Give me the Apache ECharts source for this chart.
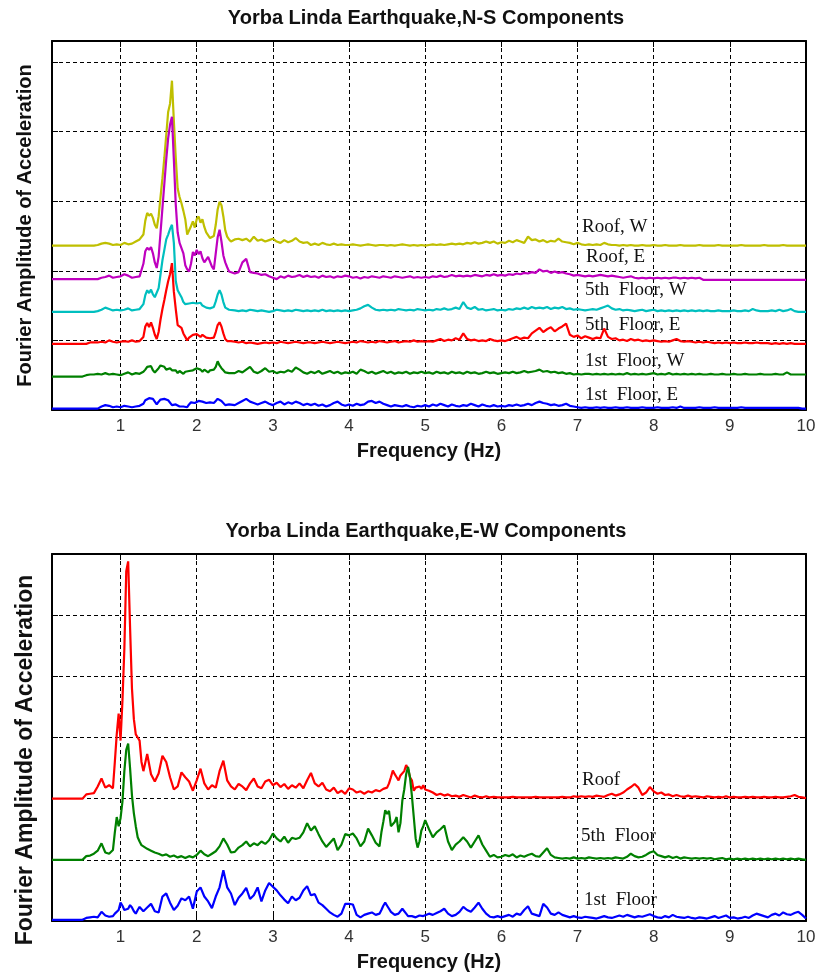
<!DOCTYPE html>
<html>
<head>
<meta charset="utf-8">
<script src="https://cdn.jsdelivr.net/npm/echarts@6/dist/echarts.min.js"></script>
<style>
  html, body { margin: 0; padding: 0; background: #fff; }
  #chart { width: 819px; height: 976px; }
</style>
</head>
<body>
<div id="chart"></div>
<script>
// Fourier amplitude spectra, Yorba Linda earthquake, stacked per recording station.

const titleNS = 'Yorba Linda Earthquake,N-S Components';
const titleEW = 'Yorba Linda Earthquake,E-W Components';
const xName = 'Frequency (Hz)';
const yName = 'Fourier Amplitude of Acceleration';
const xTicks = [1, 2, 3, 4, 5, 6, 7, 8, 9, 10];

const namesNS = ['Roof, W', 'Roof, E', '5th  Floor, W', '5th  Floor, E', '1st  Floor, W', '1st  Floor, E'];
const namesEW = ['Roof', '5th  Floor', '1st  Floor'];

// frequency bins (Hz): finer spacing around the resonance peaks
function bins(start, stop, step) {
  const n = Math.round((stop - start) / step) + 1;
  const out = [];
  for (let i = 0; i < n; i++) out.push(Math.round((start + i * step) * 1000) / 1000);
  return out;
}
const freqNS = [0.1].concat(bins(0.5, 1.3, 0.05), bins(1.325, 2.45, 0.025), bins(2.5, 10, 0.05));
const freqEW = [0.1].concat(bins(0.5, 0.9, 0.05), bins(0.925, 1.3, 0.025), bins(1.35, 4.4, 0.05),
                            bins(4.425, 5.0, 0.025), bins(5.05, 10, 0.05));

// ---- N-S components (offset traces) ----
const roofW_NS = [
  2.36,
  2.36,2.36,2.36,2.36,2.37,2.39,2.40,2.39,2.37,2.38,2.37,2.40,2.38,2.39,2.42,2.45,2.52,
  2.72,2.83,2.79,2.82,2.76,2.66,2.61,2.78, 3.06,3.33,3.62,3.95,4.28,4.40,4.73,4.15,
  3.62,3.18,3.06,2.97,2.86,2.74,2.52,2.50, 2.64,2.71,2.62,2.74,2.78,2.69,2.74,2.63,
  2.55,2.53,2.47,2.45,2.50,2.66,2.88,2.99, 2.94,2.78,2.58,2.49,2.45,2.42,
  2.45,2.46,2.44,2.46,2.42,2.49,2.43,2.45,2.42,2.44,
  2.46,2.42,2.40,2.44,2.41,2.43,2.47,2.42,2.40,2.41,
  2.37,2.39,2.37,2.40,2.38,2.37,2.39,2.37,2.38,2.37,
  2.37,2.38,2.37,2.36,2.37,2.38,2.37,2.36,2.37,2.37,
  2.36,2.37,2.36,2.37,2.38,2.37,2.36,2.37,2.36,2.37,
  2.36,2.37,2.38,2.37,2.38,2.37,2.38,2.39,2.38,2.39,
  2.38,2.40,2.39,2.41,2.39,2.40,2.42,2.40,2.42,2.39,
  2.41,2.40,2.43,2.41,2.44,2.42,2.40,2.49,2.44,2.45,
  2.42,2.44,2.41,2.43,2.42,2.46,2.42,2.41,2.40,2.38,
  2.40,2.38,2.37,2.38,2.37,2.38,2.37,2.40,2.38,2.37,
  2.37,2.36,2.37,2.36,2.37,2.36,2.36,2.37,2.36,2.36,
  2.37,2.36,2.36,2.37,2.36,2.36,2.36,2.37,2.36,2.36,
  2.36,2.36,2.37,2.36,2.36,2.36,2.36,2.37,2.36,2.36,
  2.36,2.36,2.36,2.37,2.36,2.36,2.36,2.36,2.36,2.37,
  2.36,2.36,2.36,2.36,2.37,2.36,2.36,2.36,2.36,2.36,
  2.36
];
const roofE_NS = [
  1.88,
  1.88,1.88,1.88,1.88,1.88,1.90,1.91,1.93,1.90,1.91,1.92,1.95,1.93,1.90,1.91,1.92,2.10,
  2.28,2.33,2.30,2.34,2.25,2.12,2.04,2.20, 2.55,2.90,3.25,3.60,3.90,4.10,4.21,3.60,
  2.95,2.55,2.40,2.38,2.25,2.08,2.02,1.99, 2.10,2.27,2.22,2.30,2.24,2.28,2.18,2.12,
  2.16,2.20,2.22,2.06,2.02,2.25,2.48,2.59, 2.42,2.22,2.12,2.05,1.99,1.97,
  1.96,1.98,2.12,2.17,1.98,1.97,1.96,1.94,1.95,1.92,
  1.90,1.88,1.92,1.90,1.93,1.91,1.92,1.94,1.91,1.93,
  1.91,1.92,1.90,1.93,1.91,1.92,1.90,1.92,1.91,1.93,
  1.92,1.90,1.91,1.89,1.91,1.90,1.92,1.91,1.90,1.92,
  1.91,1.90,1.92,1.91,1.90,1.91,1.92,1.90,1.91,1.90,
  1.91,1.90,1.92,1.91,1.93,1.91,1.92,1.94,1.92,1.93,
  1.92,1.93,1.92,1.94,1.93,1.92,1.94,1.93,1.95,1.93,
  1.94,1.93,1.95,1.94,1.96,1.95,1.97,1.96,1.98,1.97,
  2.02,1.99,2.00,1.97,1.99,1.97,1.98,1.96,1.95,1.93,
  1.94,1.93,1.92,1.93,1.92,1.93,1.94,1.93,1.92,1.93,
  1.92,1.91,1.90,1.91,1.92,1.90,1.89,1.90,1.89,1.90,
  1.89,1.90,1.89,1.90,1.89,1.90,1.90,1.89,1.90,1.89,
  1.90,1.89,1.90,1.87,1.87,1.87,1.87,1.87,1.87,1.87,
  1.87,1.87,1.87,1.87,1.87,1.87,1.87,1.87,1.87,1.87,
  1.87,1.87,1.87,1.87,1.87,1.87,1.87,1.87,1.87,1.87,
  1.87
];
const fifthW_NS = [
  1.41,
  1.41,1.41,1.41,1.41,1.42,1.44,1.47,1.45,1.43,1.44,1.43,1.44,1.46,1.43,1.44,1.45,1.52,
  1.65,1.72,1.68,1.73,1.66,1.62,1.60,1.75, 1.95,2.15,2.30,2.45,2.52,2.60,2.66,2.40,
  1.85,1.72,1.70,1.62,1.55,1.52,1.50,1.53, 1.55,1.54,1.56,1.53,1.52,1.54,1.50,1.48,
  1.47,1.49,1.46,1.47,1.48,1.56,1.66,1.72, 1.66,1.55,1.47,1.45,1.44,1.43,
  1.43,1.42,1.43,1.42,1.44,1.43,1.42,1.43,1.42,1.41,
  1.42,1.44,1.43,1.42,1.43,1.42,1.44,1.43,1.42,1.43,
  1.42,1.43,1.42,1.44,1.42,1.43,1.42,1.43,1.42,1.43,
  1.42,1.43,1.44,1.46,1.49,1.51,1.47,1.44,1.43,1.44,
  1.43,1.44,1.43,1.45,1.44,1.43,1.44,1.43,1.45,1.44,
  1.43,1.44,1.43,1.45,1.44,1.46,1.44,1.45,1.47,1.45,
  1.55,1.47,1.45,1.48,1.44,1.45,1.43,1.44,1.45,1.43,
  1.44,1.43,1.45,1.44,1.46,1.45,1.47,1.45,1.48,1.46,
  1.47,1.46,1.48,1.45,1.47,1.46,1.48,1.45,1.46,1.44,
  1.45,1.44,1.43,1.44,1.45,1.44,1.46,1.48,1.50,1.46,
  1.44,1.45,1.43,1.44,1.43,1.42,1.43,1.44,1.42,1.43,
  1.44,1.42,1.43,1.42,1.43,1.42,1.43,1.42,1.43,1.42,
  1.43,1.42,1.43,1.42,1.43,1.42,1.42,1.43,1.42,1.42,
  1.42,1.43,1.42,1.42,1.43,1.42,1.45,1.43,1.42,1.42,
  1.42,1.43,1.42,1.44,1.42,1.43,1.45,1.42,1.41,1.41,
  1.41
];
const fifthE_NS = [
  0.95,
  0.95,0.95,0.97,0.97,0.97,0.98,0.97,1.00,0.98,0.97,0.98,0.99,0.98,1.00,0.98,0.99,1.05,
  1.20,1.25,1.19,1.26,1.18,1.08,1.02,1.12, 1.30,1.45,1.58,1.72,1.85,1.95,2.11,1.70,
  1.45,1.22,1.24,1.18,1.10,1.05,1.00,1.04, 1.06,1.08,1.06,1.09,1.07,1.05,1.08,1.06,
  1.04,1.06,1.03,1.05,1.04,1.12,1.22,1.26, 1.20,1.10,1.02,0.99,0.98,0.99,
  0.98,0.97,0.98,0.96,0.97,0.96,0.95,0.96,0.97,0.96,
  0.97,0.96,0.98,0.97,0.96,0.97,0.98,0.97,0.96,0.97,
  0.97,0.96,0.97,0.98,0.97,0.96,0.97,0.98,0.97,0.96,
  0.97,0.98,0.97,0.99,0.98,0.97,0.98,0.97,0.99,0.98,
  0.97,0.98,0.99,0.97,0.98,0.99,0.98,1.00,0.98,0.99,
  0.98,0.99,0.98,1.00,1.02,0.99,1.01,1.00,1.03,1.01,
  1.10,1.02,1.00,1.01,0.99,1.00,0.99,1.02,1.00,0.99,
  1.00,0.99,1.01,1.03,1.05,1.02,1.04,1.03,1.10,1.14,
  1.18,1.12,1.16,1.19,1.13,1.17,1.20,1.24,1.08,1.05,
  1.07,1.03,1.06,1.04,1.02,1.04,1.03,1.17,1.05,1.02,
  1.03,1.00,1.01,0.99,1.02,1.00,1.01,0.99,1.00,0.99,
  1.00,0.99,0.98,0.99,0.98,1.00,1.02,0.99,0.98,0.99,
  0.98,0.97,0.98,0.97,0.98,0.97,0.96,0.97,0.96,0.97,
  0.96,0.97,0.96,0.96,0.97,0.96,0.96,0.97,0.96,0.96,
  0.96,0.95,0.96,0.95,0.96,0.95,0.96,0.95,0.95,0.95,
  0.95
];
const firstW_NS = [
  0.48,
  0.48,0.50,0.51,0.51,0.52,0.51,0.53,0.51,0.52,0.51,0.50,0.52,0.54,0.51,0.53,0.52,0.55,
  0.58,0.62,0.60,0.63,0.57,0.54,0.56,0.60, 0.64,0.66,0.62,0.58,0.56,0.60,0.57,0.55,
  0.57,0.53,0.56,0.54,0.52,0.55,0.53,0.56, 0.54,0.57,0.55,0.60,0.62,0.58,0.55,0.58,
  0.56,0.54,0.57,0.55,0.58,0.62,0.70,0.64, 0.60,0.57,0.54,0.56,0.53,0.55,
  0.53,0.56,0.54,0.58,0.62,0.55,0.53,0.56,0.60,0.55,
  0.56,0.53,0.55,0.54,0.57,0.55,0.61,0.58,0.54,0.52,
  0.55,0.53,0.56,0.52,0.54,0.56,0.53,0.55,0.52,0.54,
  0.53,0.55,0.52,0.58,0.56,0.53,0.55,0.52,0.54,0.56,
  0.53,0.55,0.52,0.54,0.53,0.55,0.52,0.54,0.53,0.55,
  0.53,0.54,0.52,0.55,0.53,0.54,0.52,0.55,0.53,0.54,
  0.52,0.55,0.53,0.54,0.52,0.53,0.55,0.53,0.54,0.52,
  0.53,0.54,0.53,0.55,0.53,0.54,0.56,0.54,0.55,0.56,
  0.58,0.55,0.56,0.54,0.55,0.53,0.54,0.52,0.53,0.51,
  0.52,0.51,0.52,0.52,0.51,0.52,0.51,0.52,0.51,0.52,
  0.51,0.52,0.51,0.53,0.51,0.52,0.51,0.52,0.51,0.52,
  0.53,0.51,0.52,0.51,0.53,0.51,0.52,0.51,0.52,0.51,
  0.52,0.51,0.52,0.51,0.51,0.52,0.51,0.51,0.52,0.51,
  0.51,0.52,0.51,0.51,0.52,0.51,0.51,0.51,0.52,0.51,
  0.51,0.51,0.52,0.51,0.51,0.54,0.51,0.51,0.51,0.51,
  0.51
];
const firstE_NS = [
  0.02,
  0.02,0.02,0.02,0.02,0.02,0.05,0.07,0.06,0.04,0.05,0.04,0.06,0.05,0.04,0.05,0.06,0.09,
  0.14,0.16,0.17,0.15,0.16,0.12,0.08,0.12, 0.15,0.17,0.16,0.17,0.14,0.12,0.07,0.06,
  0.08,0.06,0.05,0.07,0.05,0.06,0.04,0.08, 0.11,0.12,0.10,0.12,0.13,0.11,0.12,0.14,
  0.10,0.08,0.11,0.09,0.10,0.13,0.16,0.15, 0.13,0.11,0.07,0.06,0.08,0.06,
  0.07,0.10,0.13,0.16,0.12,0.10,0.08,0.10,0.12,0.09,
  0.07,0.10,0.12,0.08,0.11,0.09,0.12,0.10,0.07,0.09,
  0.07,0.09,0.06,0.08,0.05,0.07,0.10,0.12,0.08,0.06,
  0.08,0.06,0.09,0.07,0.08,0.12,0.13,0.10,0.12,0.09,
  0.07,0.05,0.07,0.06,0.05,0.07,0.05,0.04,0.06,0.05,
  0.07,0.05,0.08,0.06,0.09,0.07,0.05,0.08,0.06,0.05,
  0.07,0.06,0.09,0.07,0.05,0.08,0.06,0.05,0.07,0.05,
  0.06,0.05,0.07,0.06,0.08,0.06,0.07,0.09,0.07,0.10,
  0.12,0.10,0.09,0.07,0.08,0.06,0.07,0.09,0.06,0.05,
  0.04,0.03,0.04,0.03,0.03,0.04,0.03,0.04,0.03,0.03,
  0.04,0.03,0.03,0.04,0.03,0.03,0.03,0.04,0.03,0.03,
  0.03,0.04,0.03,0.03,0.03,0.04,0.03,0.05,0.03,0.03,
  0.03,0.03,0.04,0.03,0.03,0.03,0.04,0.03,0.03,0.03,
  0.03,0.03,0.03,0.04,0.03,0.03,0.03,0.03,0.03,0.03,
  0.03,0.03,0.03,0.03,0.03,0.03,0.03,0.03,0.03,0.02,
  0.02
];

// ---- E-W components (offset traces) ----
const roof_EW = [
  2.00,
  2.00,2.07,2.08,2.09,2.20,2.33,2.18,2.22,2.17,
  2.60,3.05,3.39,2.95,3.60,4.45,5.72,5.88,4.80,3.80,3.30,3.05,3.00,2.95,2.60,2.45,
  2.73,2.40,2.28,2.41,2.70,2.60,2.35,2.15,2.20,2.43,
  2.35,2.28,2.13,2.30,2.49,2.25,2.15,2.22,2.18,2.45,
  2.62,2.30,2.20,2.15,2.24,2.20,2.14,2.25,2.33,2.20,
  2.17,2.28,2.31,2.22,2.26,2.19,2.24,2.16,2.22,2.18,
  2.25,2.17,2.30,2.42,2.25,2.20,2.26,2.15,2.12,2.18,
  2.09,2.13,2.08,2.17,2.15,2.10,2.12,2.08,2.12,2.10,
  2.14,2.12,
  2.15,2.16,2.14,2.18,2.25,2.35,2.46,2.40,2.35,2.30,2.38,2.40,
  2.45,2.55,2.49,2.35,2.30,2.13,2.18,2.15,2.20,2.16,2.22,2.15,
  2.13,2.10,2.06,2.08,2.05,2.07,2.04,2.05,2.03,2.06,
  2.04,2.02,2.05,2.03,2.02,2.04,2.02,2.03,2.02,2.02,
  2.02,2.02,2.03,2.02,2.02,2.02,2.02,2.02,2.03,2.02,
  2.02,2.02,2.02,2.02,2.02,2.03,2.02,2.02,2.04,2.03,
  2.04,2.03,2.04,2.03,2.05,2.04,2.03,2.06,2.08,2.05,
  2.07,2.10,2.15,2.19,2.24,2.18,2.06,2.10,2.19,2.12,
  2.08,2.10,2.06,2.07,2.04,2.06,2.04,2.03,2.05,2.03,
  2.04,2.03,2.02,2.04,2.03,2.02,2.03,2.02,2.04,2.02,
  2.03,2.02,2.02,2.03,2.02,2.03,2.02,2.02,2.03,2.02,
  2.02,2.03,2.02,2.02,2.03,2.04,2.06,2.03,2.02,2.01
];
const fifth_EW = [
  1.00,
  1.00,1.06,1.07,1.10,1.15,1.27,1.12,1.10,1.16,
  1.45,1.70,1.55,1.68,1.95,2.45,2.80,2.90,2.50,2.05,1.76,1.55,1.37,1.30,1.24,1.21,
  1.18,1.15,1.12,1.10,1.07,1.09,1.05,1.07,1.04,1.06,
  1.03,1.06,1.04,1.08,1.15,1.09,1.06,1.10,1.14,1.22,
  1.35,1.25,1.12,1.13,1.20,1.24,1.30,1.22,1.27,1.24,
  1.30,1.26,1.32,1.43,1.35,1.30,1.38,1.28,1.36,1.34,
  1.36,1.45,1.60,1.48,1.55,1.42,1.30,1.21,1.28,1.35,
  1.16,1.25,1.42,1.40,1.43,1.35,1.22,1.30,1.51,1.40,
  1.28,1.22,
  1.45,1.62,1.81,1.75,1.80,1.55,1.53,1.62,1.70,1.45,1.60,1.97,
  2.15,2.40,2.52,2.35,2.05,1.70,1.35,1.20,1.30,1.48,1.55,1.65,
  1.50,1.37,1.45,1.50,1.56,1.30,1.16,1.25,1.30,1.37,
  1.30,1.20,1.30,1.40,1.25,1.15,1.05,1.08,1.04,1.05,
  1.08,1.06,1.09,1.04,1.07,1.05,1.08,1.10,1.06,1.05,
  1.12,1.19,1.08,1.04,1.03,1.02,1.03,1.02,1.04,1.02,
  1.03,1.02,1.04,1.03,1.02,1.03,1.02,1.03,1.02,1.04,
  1.03,1.02,1.05,1.10,1.06,1.04,1.05,1.08,1.12,1.14,
  1.08,1.06,1.04,1.06,1.03,1.05,1.02,1.04,1.03,1.02,
  1.03,1.02,1.03,1.02,1.03,1.01,1.02,1.03,1.01,1.02,
  1.01,1.02,1.01,1.02,1.01,1.02,1.01,1.02,1.01,1.02,
  1.01,1.02,1.01,1.02,1.01,1.02,1.01,1.02,1.01,1.00
];
const first_EW = [
  0.02,
  0.02,0.05,0.06,0.07,0.06,0.15,0.09,0.07,0.08,
  0.12,0.10,0.18,0.30,0.25,0.18,0.15,0.20,0.26,0.22,0.16,0.12,0.18,0.23,0.20,0.16,
  0.22,0.28,0.16,0.14,0.40,0.45,0.30,0.18,0.25,0.37,
  0.34,0.40,0.20,0.48,0.55,0.40,0.32,0.21,0.40,0.55,
  0.83,0.55,0.45,0.26,0.38,0.45,0.54,0.36,0.42,0.55,
  0.32,0.50,0.62,0.56,0.50,0.42,0.35,0.29,0.40,0.34,
  0.38,0.50,0.57,0.42,0.44,0.30,0.26,0.20,0.14,0.10,
  0.07,0.12,0.28,0.28,0.27,0.10,0.06,0.10,0.12,0.14,
  0.10,0.12,
  0.18,0.25,0.30,0.25,0.20,0.15,0.18,0.10,0.08,0.12,0.15,0.20,
  0.18,0.12,0.08,0.06,0.08,0.05,0.06,0.07,0.09,0.06,0.08,0.10,
  0.12,0.10,0.13,0.16,0.20,0.12,0.08,0.10,0.15,0.23,
  0.18,0.15,0.22,0.30,0.20,0.12,0.07,0.06,0.08,0.06,
  0.08,0.10,0.07,0.12,0.10,0.18,0.24,0.12,0.10,0.08,
  0.28,0.22,0.12,0.10,0.14,0.10,0.08,0.06,0.08,0.06,
  0.05,0.07,0.06,0.05,0.04,0.06,0.08,0.06,0.05,0.07,
  0.09,0.07,0.10,0.08,0.06,0.08,0.07,0.09,0.11,0.08,
  0.06,0.05,0.08,0.06,0.10,0.07,0.06,0.05,0.07,0.05,
  0.04,0.06,0.05,0.04,0.06,0.08,0.05,0.07,0.09,0.05,
  0.06,0.04,0.05,0.07,0.05,0.09,0.12,0.10,0.08,0.06,
  0.10,0.12,0.09,0.14,0.11,0.10,0.13,0.15,0.10,0.04
];

const seriesNS = [roofW_NS, roofE_NS, fifthW_NS, fifthE_NS, firstW_NS, firstE_NS];
const seriesEW = [roof_EW, fifth_EW, first_EW];
const colorsNS = ['#bfbf00', '#bf00bf', '#00bfbf', '#ff0000', '#008000', '#0000ff'];
const colorsEW = ['#ff0000', '#008000', '#0000ff'];

const problems = [];
function pairs(freq, vals, label) {
  if (freq.length !== vals.length) problems.push(label + ': ' + vals.length + ' values for ' + freq.length + ' bins');
  const out = [];
  for (let i = 0; i < Math.min(freq.length, vals.length); i++) out.push([freq[i], vals[i]]);
  return out;
}

const SANS = '"Liberation Sans", Arial, Helvetica, sans-serif';
const SERIF = '"Liberation Serif", "Times New Roman", serif';
const frame = { show: true, onZero: false, lineStyle: { color: '#000', width: 2 } };
const tick = { show: true, inside: true, length: 6, lineStyle: { color: '#000', width: 1 } };
const dashed = { show: true, lineStyle: { color: '#000', width: 1, type: [4, 3] } };
const nameStyle = { fontWeight: 'bold', fontFamily: SANS, color: '#111' };

function xAxesFor(gridIndex) {
  return [
    {
      type: 'value', gridIndex: gridIndex, position: 'bottom', min: 0.1, max: 10,
      axisLine: frame,
      axisTick: Object.assign({ customValues: xTicks }, tick),
      axisLabel: { show: true, customValues: xTicks, margin: 8, color: '#333', fontSize: 17, fontFamily: SANS },
      splitLine: dashed,
      name: xName, nameLocation: 'middle', nameGap: 31,
      nameTextStyle: Object.assign({ fontSize: 20 }, nameStyle)
    },
    {
      type: 'value', gridIndex: gridIndex, position: 'top', min: 0.1, max: 10,
      axisLine: frame,
      axisTick: Object.assign({ customValues: xTicks }, tick),
      axisLabel: { show: false }, splitLine: { show: false }
    }
  ];
}
function yAxesFor(gridIndex, max, withName) {
  const left = {
    type: 'value', gridIndex: gridIndex, position: 'left', min: 0, max: max, interval: 1,
    axisLine: frame, axisTick: tick, axisLabel: { show: false }, splitLine: dashed
  };
  if (withName) {
    Object.assign(left, {
      name: yName, nameLocation: 'middle', nameRotate: 90, nameGap: 17,
      nameTextStyle: Object.assign({ fontSize: 20 }, nameStyle)
    });
  }
  return [
    left,
    {
      type: 'value', gridIndex: gridIndex, position: 'right', min: 0, max: max, interval: 1,
      axisLine: frame, axisTick: tick, axisLabel: { show: false }, splitLine: { show: false }
    }
  ];
}

function lineSeries(freq, vals, name, color, xi, yi) {
  return {
    type: 'line', name: name, xAxisIndex: xi, yAxisIndex: yi,
    data: pairs(freq, vals, name),
    showSymbol: false, symbol: 'none', smooth: false,
    lineStyle: { color: color, width: 2.2 }, itemStyle: { color: color },
    silent: true, animation: false
  };
}

const series = [];
seriesNS.forEach((v, i) => series.push(lineSeries(freqNS, v, namesNS[i] + ' (N-S)', colorsNS[i], 0, 0)));
seriesEW.forEach((v, i) => series.push(lineSeries(freqEW, v, namesEW[i] + ' (E-W)', colorsEW[i], 2, 2)));

// titles, lower y-axis caption and trace captions
const labelSpotsNS = [[582, 227], [586, 257], [585, 290], [585, 325], [585, 361], [585, 395]];
const labelSpotsEW = [[582, 780], [581, 836], [584, 900]];
function caption(text, x, y, font, align, rotation) {
  return {
    type: 'text', x: x, y: y, rotation: rotation || 0, silent: true,
    style: { text: text, font: font, fill: '#111', align: align, verticalAlign: 'middle',
             textAlign: align, textVerticalAlign: 'middle' }
  };
}
const graphics = [
  caption(titleNS, 426, 18, 'bold 20px ' + SANS, 'center'),
  caption(titleEW, 426, 531, 'bold 20px ' + SANS, 'center'),
  caption(yName, 26, 760, 'bold 23px ' + SANS, 'center', Math.PI / 2)
];
namesNS.forEach((t, i) => graphics.push(caption(t, labelSpotsNS[i][0], labelSpotsNS[i][1], '19px ' + SERIF, 'left')));
namesEW.forEach((t, i) => graphics.push(caption(t, labelSpotsEW[i][0], labelSpotsEW[i][1], '19px ' + SERIF, 'left')));

const chart = echarts.init(document.getElementById('chart'), null, { renderer: 'canvas' });
chart.setOption({
  backgroundColor: '#fff',
  animation: false,
  grid: [
    { left: 52, top: 41, width: 754, height: 369, containLabel: false },
    { left: 52, top: 554, width: 754, height: 367, containLabel: false }
  ],
  xAxis: xAxesFor(0).concat(xAxesFor(1)),
  yAxis: yAxesFor(0, 5.3, true).concat(yAxesFor(1, 6, false)),
  series: series,
  graphic: graphics
});

if (problems.length) {
  setTimeout(() => { throw new Error(problems.join('; ')); }, 0);
}
</script>
</body>
</html>
